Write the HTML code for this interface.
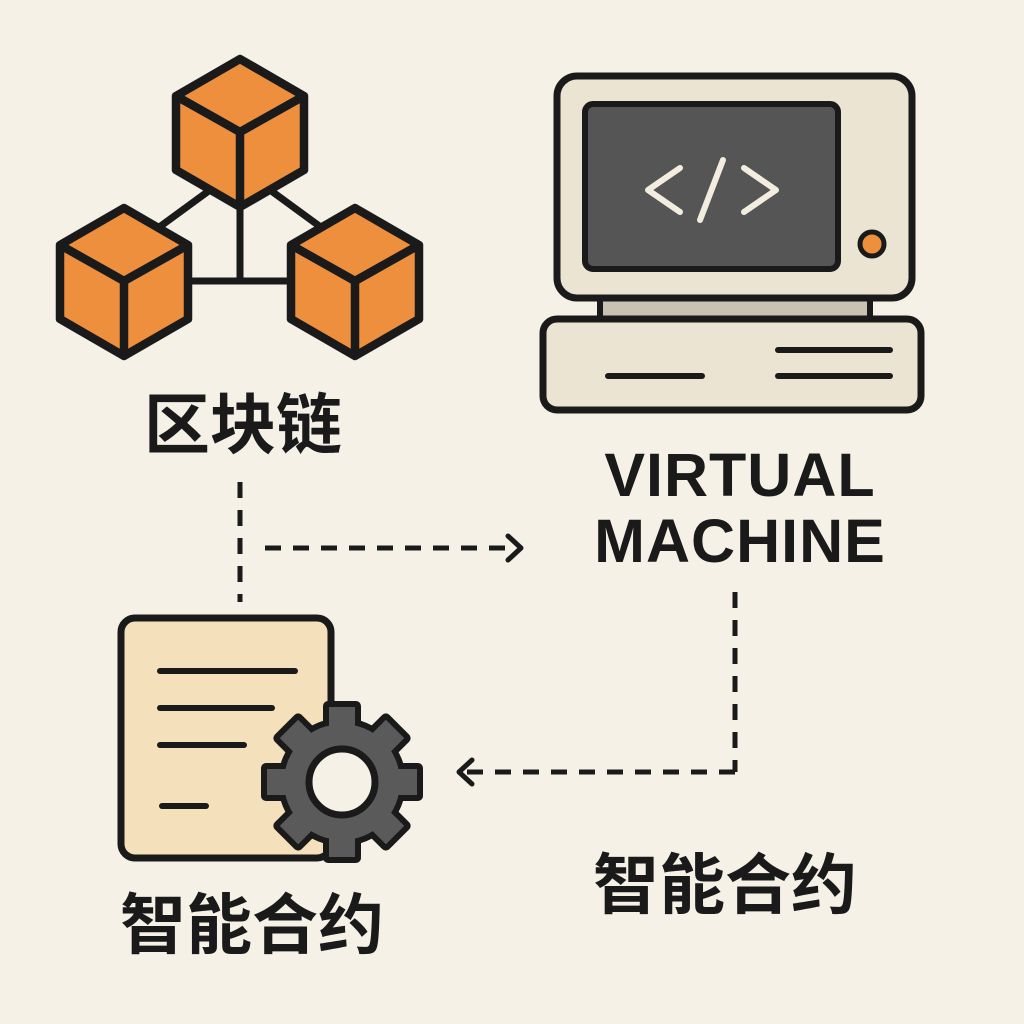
<!DOCTYPE html>
<html><head><meta charset="utf-8"><style>
html,body{margin:0;padding:0;background:#f6f1e7;}
svg{display:block}
</style></head><body>
<svg width="1024" height="1024" viewBox="0 0 1024 1024" xmlns="http://www.w3.org/2000/svg">
<rect width="1024" height="1024" fill="#f6f1e7"/>
<defs>
<g id="cube">
<polygon points="0,-73 64,-36 64,38 0,75 -64,38 -64,-36" fill="#ee8f3e" stroke="#1a1a1a" stroke-width="8.5" stroke-linejoin="round"/>
<polyline points="-64,-36 0,0 64,-36" fill="none" stroke="#1a1a1a" stroke-width="8.5" stroke-linejoin="round"/>
<line x1="0" y1="0" x2="0" y2="75" stroke="#1a1a1a" stroke-width="8.5"/>
</g>
</defs>
<g stroke="#1a1a1a" stroke-width="7">
<line x1="210" y1="190" x2="158" y2="228"/>
<line x1="270" y1="190" x2="322" y2="228"/>
<line x1="240" y1="200" x2="240" y2="282"/>
<line x1="185" y1="281" x2="295" y2="281"/>
</g>
<use href="#cube" x="240" y="132"/>
<use href="#cube" x="124" y="281"/>
<use href="#cube" x="355" y="281"/>

<rect x="600" y="296" width="270" height="24" fill="#c9c2b3" stroke="#1a1a1a" stroke-width="6"/>
<rect x="557" y="76" width="355" height="222" rx="20" fill="#ece4d2" stroke="#1a1a1a" stroke-width="7"/>
<rect x="585" y="104" width="253" height="165" rx="8" fill="#555555" stroke="#1a1a1a" stroke-width="6"/>
<g stroke="#f3ede0" stroke-width="6" fill="none" stroke-linecap="round" stroke-linejoin="round">
<polyline points="680,168 648,190 680,212"/>
<polyline points="744,168 776,190 744,212"/>
<line x1="723" y1="160" x2="700" y2="220"/>
</g>
<circle cx="872" cy="244" r="12" fill="#ee8f3e" stroke="#1a1a1a" stroke-width="5"/>
<rect x="543" y="319" width="378" height="91" rx="14" fill="#ece4d2" stroke="#1a1a1a" stroke-width="7"/>
<g stroke="#1a1a1a" stroke-width="6" stroke-linecap="round">
<line x1="608" y1="376" x2="702" y2="376"/>
<line x1="778" y1="350" x2="890" y2="350"/>
<line x1="778" y1="376" x2="890" y2="376"/>
</g>

<g font-family="Liberation Sans, Noto Sans CJK SC, sans-serif" font-weight="bold" fill="#1a1a1a" text-anchor="middle">
<text x="243" y="448" font-size="66" font-family="Noto Sans CJK SC, sans-serif">区块链</text>
<text x="740" y="496" font-size="61" letter-spacing="1">VIRTUAL</text>
<text x="740" y="562" font-size="61" letter-spacing="1">MACHINE</text>
<text x="252" y="948" font-size="66" font-family="Noto Sans CJK SC, sans-serif">智能合约</text>
<text x="725" y="908" font-size="66" font-family="Noto Sans CJK SC, sans-serif">智能合约</text>
</g>

<g stroke="#1a1a1a" stroke-width="5" fill="none" stroke-dasharray="16,12">
<line x1="240" y1="482" x2="240" y2="602"/>
<line x1="265" y1="548" x2="515" y2="548"/>
<line x1="735" y1="592" x2="735" y2="772"/>
<line x1="735" y1="772" x2="462" y2="772"/>
</g>
<g stroke="#1a1a1a" stroke-width="5" fill="none" stroke-linecap="round" stroke-linejoin="round">
<polyline points="508,536 521,548 508,560"/>
<polyline points="472,760 459,772 472,784"/>
</g>

<rect x="121" y="618" width="210" height="240" rx="14" fill="#f4e0bb" stroke="#1a1a1a" stroke-width="7"/>
<g stroke="#1a1a1a" stroke-width="6" stroke-linecap="round">
<line x1="160" y1="671" x2="295" y2="671"/>
<line x1="160" y1="708" x2="272" y2="708"/>
<line x1="160" y1="745" x2="244" y2="745"/>
<line x1="162" y1="806" x2="206" y2="806"/>
</g>
<g transform="translate(342,782)">
<g fill="#1a1a1a">
<circle r="64"/>
<rect x="-19" y="-81" width="38" height="34" rx="5"/>
<rect x="-19" y="-81" width="38" height="34" rx="5" transform="rotate(45)"/>
<rect x="-19" y="-81" width="38" height="34" rx="5" transform="rotate(90)"/>
<rect x="-19" y="-81" width="38" height="34" rx="5" transform="rotate(135)"/>
<rect x="-19" y="-81" width="38" height="34" rx="5" transform="rotate(180)"/>
<rect x="-19" y="-81" width="38" height="34" rx="5" transform="rotate(225)"/>
<rect x="-19" y="-81" width="38" height="34" rx="5" transform="rotate(270)"/>
<rect x="-19" y="-81" width="38" height="34" rx="5" transform="rotate(315)"/>
</g>
<g fill="#5a5a5a">
<circle r="58"/>
<rect x="-13" y="-75" width="26" height="30"/>
<rect x="-13" y="-75" width="26" height="30" transform="rotate(45)"/>
<rect x="-13" y="-75" width="26" height="30" transform="rotate(90)"/>
<rect x="-13" y="-75" width="26" height="30" transform="rotate(135)"/>
<rect x="-13" y="-75" width="26" height="30" transform="rotate(180)"/>
<rect x="-13" y="-75" width="26" height="30" transform="rotate(225)"/>
<rect x="-13" y="-75" width="26" height="30" transform="rotate(270)"/>
<rect x="-13" y="-75" width="26" height="30" transform="rotate(315)"/>
</g>
<circle r="33" fill="#f6f1e7" stroke="#1a1a1a" stroke-width="7"/>
</g>
</svg>
</body></html>
